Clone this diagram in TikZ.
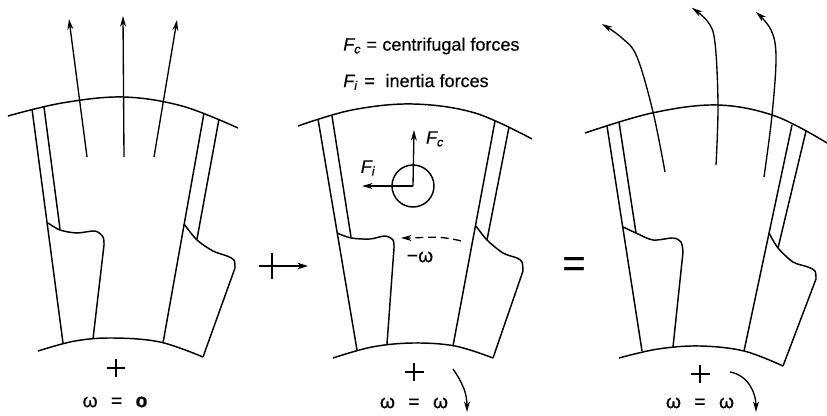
\documentclass[tikz,border=0pt]{standalone}
\usepackage{fontspec}
\setmainfont[FakeBold=0.5]{Liberation Sans}
\usetikzlibrary{arrows.meta}
\tikzset{
  outline/.style={line width=1.1pt, line join=round},
  force/.style={line width=1pt, -{Stealth[length=8pt, width=4.5pt]}},
  label/.style={inner sep=0pt, font=\fontsize{13.5}{15}\selectfont},
  speed/.style={inner sep=0pt, font=\fontsize{14.5}{16}\selectfont},
}

\begin{document}
\begin{tikzpicture}[x=0.75pt, y=-0.75pt]
  \useasboundingbox (0,0) rectangle (827,416);

  % Left passage, omega = 0
  \draw[outline] plot[smooth, tension=0.6] coordinates {(8,116) (62,103) (123,97) (182,106) (238,128)};
  \draw[outline] plot[smooth, tension=0.6] coordinates {(38,351) (75,341) (113,338) (160,342) (203,357)};
  \draw[outline] (32,109) -- (63,343);
  \draw[outline] (44,107) -- (60,229);
  \draw[outline] plot[smooth, tension=0.5] coordinates {(48,223) (60,230) (77,233) (95,231) (103,237) (104,245)} -- (93,339);
  \draw[outline] (204,113) -- (163,343);
  \draw[outline] (219,119) -- (197,239);
  \draw[outline] plot[smooth, tension=0.5] coordinates {(184,224) (197,240) (213,251) (227,256) (234,260) (235,268)} -- (203,357);
  % Straight arrows
  \foreach \xa/\xb/\xc in {87/69/19, 124/123/16, 154/177/20}
    \draw[force] (\xa,157) -- (\xb,\xc);
  % Hub mark
  \draw[line width=1.5pt] (107,368) -- (125,368) (116,359) -- (116,377);
  \node[speed] (speedA) at (115,402) {ω\hspace{10pt}=\hspace{10pt}\textbf{o}};

  % Plus sign between the first two
  \draw[line width=1.7pt] (272,253) -- (272,279);
  \draw[line width=1.3pt, -{Stealth[length=8pt, width=5pt]}] (259,266) -- (308,266);

  % Middle passage, inertia forces
  \node[label, anchor=west] (legendC) at (343,46) {\textit{F\textsubscript{c}}\hspace{4pt}=\hspace{4pt}centrifugal forces};
  \node[label, anchor=west] (legendI) at (343,82) {\textit{F\textsubscript{i}}\hspace{5pt}=\hspace{8pt}inertia forces};
  \draw[outline] plot[smooth, tension=0.6] coordinates {(298,126) (352,110) (413,104) (475,113) (532,139)};
  \draw[outline] plot[smooth, tension=0.6] coordinates {(333,358) (372,347) (413,343) (455,346) (493,358)};
  \draw[outline] (318,119) -- (357,350);
  \draw[outline] (332,116) -- (351,237);
  \draw[outline] plot[smooth, tension=0.5] coordinates {(337,233) (351,238) (370,239) (385,236) (393,240) (394,248)} -- (387,344);
  \draw[outline] (495,121) -- (453,346);
  \draw[outline] (509,127) -- (487,240);
  \draw[outline] plot[smooth, tension=0.5] coordinates {(476,226) (487,240) (503,253) (517,258) (522,262) (523,271)} -- (493,358);
  % Forces on the particle
  \draw[outline] (413,186) circle (21);
  \coordinate (mass) at (413,186);
  \coordinate (tipC) at (414,130);
  \coordinate (tipI) at (362,186);
  \draw[force] (mass) -- (tipC);
  \draw[force] (mass) -- (tipI);
  \node[label] (forceC) at (435,139) {\textit{F\textsubscript{c}}};
  \node[label] (forceI) at (368,168) {\textit{F\textsubscript{i}}};
  % Relative rotation
  \draw[force, dash pattern=on 6pt off 3.5pt] (461,241) to[out=165, in=0] (401,238);
  \node[speed] (speedRel) at (420,257) {−ω};
  \draw[line width=1.5pt] (405,372) -- (424,372) (414,363) -- (414,381);
  \node[speed] (speedB) at (414,403) {ω\hspace{10pt}=\hspace{10pt}ω};
  \draw[force] (453,369) to[out=-55, in=90] (467,412);

  \node[font=\fontsize{30}{30}\selectfont, inner sep=0pt] (equals) at (574,267) {=};

  % Right passage, sum of the two
  \draw[outline] plot[smooth, tension=0.6] coordinates {(585,133) (652,113) (717,105) (775,116) (827,143)};
  \draw[outline] plot[smooth, tension=0.6] coordinates {(619,358) (658,349) (700,346) (744,351) (783,366)};
  \draw[outline] (607,126) -- (642,351);
  \draw[outline] (619,122) -- (636,233);
  \draw[outline] plot[smooth, tension=0.5] coordinates {(623,227) (636,233) (653,240) (673,238) (681,242) (683,252)} -- (673,347);
  \draw[outline] (792,125) -- (744,351);
  \draw[outline] (806,131) -- (778,248);
  \draw[outline] plot[smooth, tension=0.5] coordinates {(769,233) (778,248) (793,262) (808,267) (815,271) (816,279)} -- (783,366);
  % Curved arrows
  \draw[force] plot[smooth, tension=0.6] coordinates {(665,172) (653,112) (637,57) (622,38) (602,24)};
  \draw[force] plot[smooth, tension=0.6] coordinates {(716,165) (718,105) (715,43) (708,22) (692,8)};
  \draw[force] plot[smooth, tension=0.6] coordinates {(764,177) (772,115) (776,57) (771,30) (756,12)};
  \draw[line width=1.5pt] (691,374) -- (710,374) (700,365) -- (700,383);
  \node[speed] (speedC) at (700,403) {ω\hspace{10pt}=\hspace{10pt}ω};
  \draw[force] (730,372) to[out=-10, in=90] (756,412);
\end{tikzpicture}
\end{document}
